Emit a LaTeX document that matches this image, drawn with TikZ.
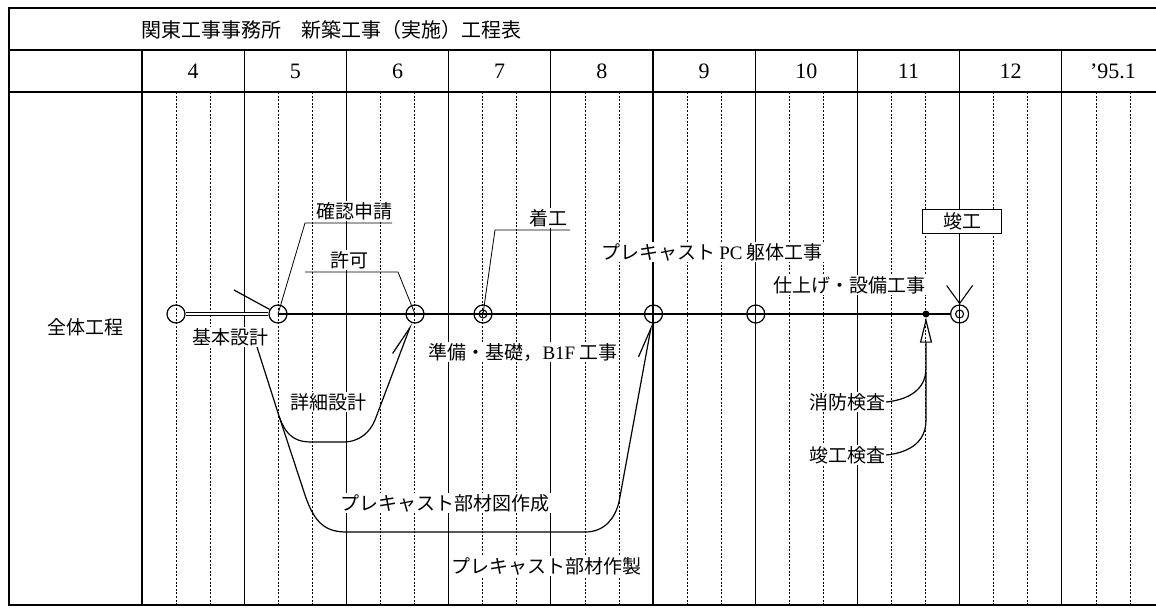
\documentclass[tikz,border=0pt]{standalone}
\usepackage{fontspec}
\setmainfont{Liberation Serif}
\newfontfamily\jp{Noto Sans CJK JP}
\usetikzlibrary{arrows.meta}
\begin{document}
\begin{tikzpicture}[x=1pt,y=-1pt,
  frame/.style={line width=1.3pt},
  monthline/.style={line width=1.1pt},
  tenline/.style={line width=0.75pt, dash pattern=on 2pt off 1.6pt},
  lbl/.style={font=\jp\fontsize{19}{19}\selectfont, fill=white, inner sep=1pt},
  monlbl/.style={font=\fontsize{22}{22}\selectfont, inner sep=0pt},
  ms/.style={draw, circle, minimum size=18pt, inner sep=0pt, line width=1.2pt},
  msin/.style={draw, circle, minimum size=8pt, inner sep=0pt, line width=1.1pt},
  mainline/.style={line width=1.6pt},
  act/.style={line width=1.2pt, line join=round},
  leader/.style={line width=0.8pt},
  harp/.style={-{Straight Barb[harpoon, length=30pt, width=14pt]}},
]
\useasboundingbox (0,0) rectangle (1156,610);
% frame
\draw[frame] (1156,8) -- (9,8) -- (9,605) -- (1156,605);
\draw[frame] (9,50) -- (1156,50);
\draw[frame] (9,92) -- (1156,92);
% grid
\draw[monthline] (142,50) -- (142,605);
\foreach \i in {1,...,9} \draw[monthline] ({142+102.2*\i},50) -- ({142+102.2*\i},605);
\foreach \i in {0,...,9} \foreach \j in {1,2}
  \draw[tenline] ({142+102.2*\i+34.067*\j},92) -- ({142+102.2*\i+34.067*\j},605);
% header
\node[anchor=west, inner sep=0pt, font=\jp\fontsize{20}{20}\selectfont] (title) at (141,30) {関東工事事務所　新築工事（実施）工程表};
\foreach \m [count=\i from 0] in {4,5,6,7,8,9,10,11,12,’95.1}
  \node[monlbl] (m\i) at ({142+102.2*\i+51.1},71) {\m};
\node[lbl] (zentai) at (85,327) {全体工程};
% milestones
\node[ms] (A) at (176,314) {};
\node[ms] (B) at (278,314) {};
\node[ms] (C) at (415,314) {};
\node[ms] (D) at (483,314) {};
\node[msin] (Din) at (483,314) {};
\node[ms] (E) at (653.5,314) {};
\node[ms] (F) at (755.8,314) {};
\node[circle, fill, minimum size=7pt, inner sep=0pt] (dot) at (926,314) {};
\node[ms] (G) at (959.6,314) {};
\node[msin] (Gin) at (959.6,314) {};
% main line
\draw[mainline] (B.center) -- (G.west);
\draw[line width=0.8pt, double, double distance=2.6pt] (A.east) -- (B.west);
\coordinate (sl) at (234,290);
\draw[act] (sl) -- (B);
% labels
\node[lbl] (kihon) at (230,337) {基本設計};
\node[lbl, anchor=south] (kakunin) at (354,221) {確認申請};
\node[lbl, anchor=south] (kyoka) at (349,270) {許可};
\node[lbl, anchor=south] (chako) at (548,228) {着工};
\node[lbl] (shosai) at (328,402) {詳細設計};
\node[lbl] (junbi) at (523,352) {準備・基礎，{\rmfamily B1F} 工事};
\node[lbl] (pc) at (712,252) {プレキャスト {\rmfamily PC} 躯体工事};
\node[lbl] (shiage) at (849,285) {仕上げ・設備工事};
\node[lbl] (shobo) at (847,402) {消防検査};
\node[lbl] (kankoken) at (847,455) {竣工検査};
\node[lbl] (zuhyo) at (445,503) {プレキャスト部材図作成};
\node[lbl] (seisaku) at (546,566) {プレキャスト部材作製};
\node[draw, fill=white, line width=1pt, minimum width=79pt, minimum height=24pt, inner sep=0pt,
      font=\jp\fontsize{19}{19}\selectfont] (kanko) at (962,221) {竣工};
% leaders
\coordinate (ka1) at (305,223); \coordinate (ka2) at (392,223);
\draw[leader] (B.center) -- (ka1) -- (ka2);
\coordinate (ky1) at (305,272); \coordinate (ky2) at (398,272);
\draw[leader] (ky1) -- (ky2) -- (C.center);
\coordinate (ch1) at (495,230); \coordinate (ch2) at (570,230);
\draw[leader] (D.center) -- (ch1) -- (ch2);
\draw[line width=1.1pt, -{Straight Barb[length=18pt, width=26pt]}] (kanko.south -| G) -- (G.north);
% activities
\coordinate (s) at (257,347);
\coordinate (sp) at (279,416);
\draw[act, harp] (s) -- (sp) .. controls (287,440) and (300,442) .. (312,442) -- (343,442)
   .. controls (360,442) and (370,432) .. (375,420) -- (C);
\draw[act, harp] (sp) -- (305,495) .. controls (315,525) and (327,532) .. (347,532) -- (585,532)
   .. controls (605,532) and (615,518) .. (619,502) -- (E);
\draw[act] (kankoken.east) .. controls (905,453) and (926,445) .. (926,420) -- (926,372);
\draw[act, -{Triangle[open, length=25pt, width=12pt]}] (shobo.east) .. controls (905,400) and (926,392) .. (926,368) -- (dot.south);
\end{tikzpicture}
\end{document}
